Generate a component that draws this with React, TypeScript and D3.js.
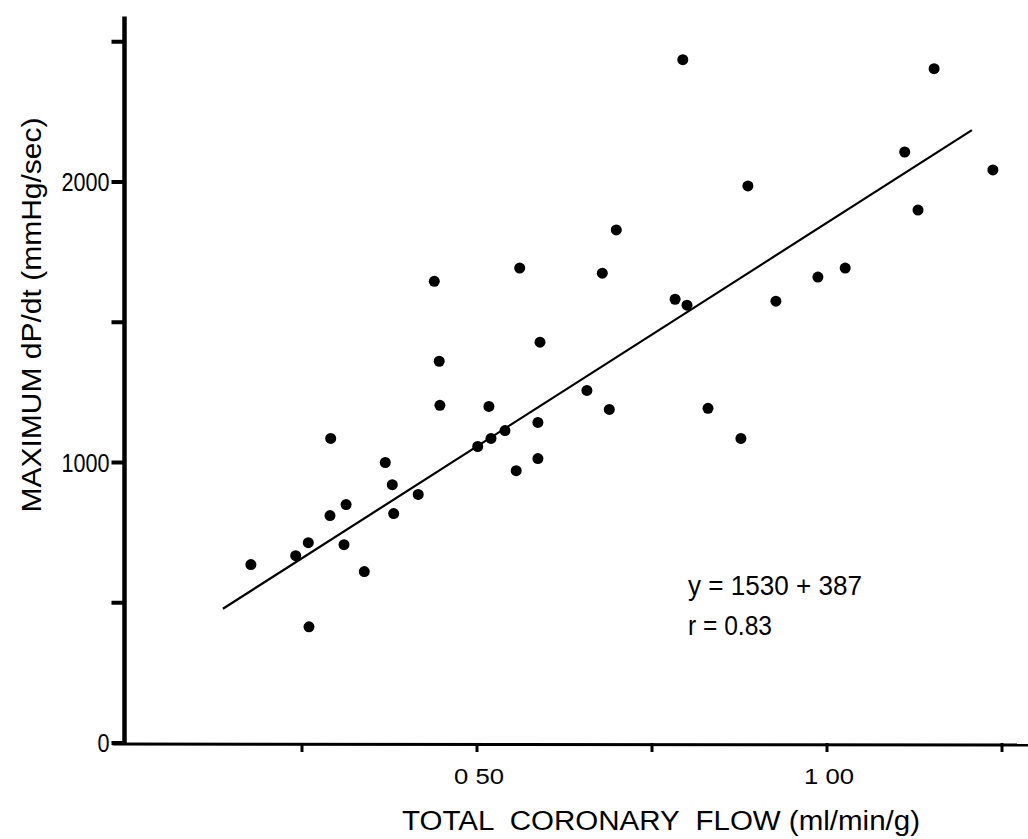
import React from 'react'
import * as d3 from 'd3'

// coronary flow (ml/min/g) vs maximum dP/dt (mmHg/sec)
const flow = [
  0.177, 0.241, 0.259, 0.26, 0.29, 0.313, 0.291, 0.31, 0.339, 0.369, 0.379, 0.381, 0.416, 0.447,
  0.439, 0.446, 0.517, 0.501, 0.52, 0.54, 0.556, 0.587, 0.587, 0.59, 0.561, 0.657, 0.689, 0.679,
  0.699, 0.783, 0.8, 0.794, 0.83, 0.877, 0.887, 0.927, 0.987, 1.026, 1.111, 1.153, 1.13, 1.237
]
const dpdt = [
  636, 668, 714, 414, 811, 850, 1086, 707, 611, 1000, 921, 818, 886, 1204,
  1646, 1361, 1200, 1057, 1086, 1114, 971, 1014, 1143, 1429, 1693, 1257, 1189, 1675,
  1829, 1582, 1561, 2436, 1193, 1086, 1986, 1575, 1661, 1693, 2107, 2404, 1900, 2043
]

// fitted line as drawn
const fitRange = [0.137, 1.207]
const fitSlope = 1595
const fitIntercept = 260

const yTicks = [0, 500, 1000, 1500, 2000, 2500]
const yLabels: Record<number, string> = { 0: '0', 1000: '1000', 2000: '2000' }
const xTicks = [0.25, 0.5, 0.75, 1.0, 1.25]
const xLabels: Record<number, string> = { 0.5: '0 50', 1.0: '1 00' }

const W = 1028
const H = 839
const font = '"Liberation Sans", Arial, sans-serif'

export default function App() {
  const x = d3.scaleLinear().domain([0, 1.3]).range([127, 127 + 1.3 * 700])
  const y = d3.scaleLinear().domain([0, 2500]).range([743, 743 - 0.2805 * 2500])

  const points = flow.map((f, i) => ({ f, v: dpdt[i] }))
  const fitLine = d3
    .line<number>()
    .x((d) => x(d))
    .y((d) => y(fitSlope * d + fitIntercept))

  const axisX = x(0) - 2.5

  return (
    <svg
      width={W}
      height={H}
      style={{ position: 'absolute', left: 0, top: 0, background: '#fff' }}
      fontFamily={font}
    >
      {/* y axis */}
      <line x1={axisX} x2={axisX} y1={y(0) + 1} y2={y(2590)} stroke="#000" strokeWidth={4.5} />
      {yTicks.map((t) => (
        <line key={t} x1={axisX - 13} x2={axisX} y1={y(t)} y2={y(t)} stroke="#000" strokeWidth={4} />
      ))}
      {yTicks
        .filter((t) => yLabels[t])
        .map((t) => (
          <text
            key={t}
            x={axisX - 15}
            y={y(t) + 9}
            textAnchor="end"
            fontSize={25}
            fill="#000"
            textLength={yLabels[t].length * 12}
            lengthAdjust="spacingAndGlyphs"
          >
            {yLabels[t]}
          </text>
        ))}

      {/* x axis */}
      <line x1={axisX - 12} x2={W} y1={y(0) + 1} y2={y(0) + 2} stroke="#000" strokeWidth={3} />
      {xTicks.map((t) => (
        <line key={t} x1={x(t)} x2={x(t)} y1={y(0)} y2={y(0) + 9} stroke="#000" strokeWidth={3} />
      ))}
      {xTicks
        .filter((t) => xLabels[t])
        .map((t) => (
          <text
            key={t}
            x={x(t) + 2}
            y={784}
            textAnchor="middle"
            fontSize={22}
            fill="#000"
            textLength={50}
            lengthAdjust="spacingAndGlyphs"
            style={{ whiteSpace: 'pre' }}
          >
            {xLabels[t]}
          </text>
        ))}

      {/* axis titles */}
      <text
        x={661}
        y={830}
        textAnchor="middle"
        fontSize={27}
        fill="#000"
        textLength={518}
        lengthAdjust="spacingAndGlyphs"
        style={{ whiteSpace: 'pre' }}
      >
        TOTAL  CORONARY  FLOW (ml/min/g)
      </text>
      <text
        transform={`translate(41, 315) rotate(-90)`}
        textAnchor="middle"
        fontSize={27}
        fill="#000"
        textLength={395}
        lengthAdjust="spacingAndGlyphs"
      >
        MAXIMUM dP/dt (mmHg/sec)
      </text>

      {/* regression line */}
      <path d={fitLine(fitRange) ?? ''} fill="none" stroke="#000" strokeWidth={2.2} />

      {/* data points */}
      {points.map((p, i) => (
        <circle key={i} cx={x(p.f)} cy={y(p.v)} r={5.5} fill="#000" />
      ))}

      {/* equation */}
      <text x={688} y={595} fontSize={27} fill="#000" textLength={174} lengthAdjust="spacingAndGlyphs">
        y = 1530 + 387
      </text>
      <text x={688} y={635} fontSize={27} fill="#000" textLength={84} lengthAdjust="spacingAndGlyphs">
        r = 0.83
      </text>
    </svg>
  )
}
